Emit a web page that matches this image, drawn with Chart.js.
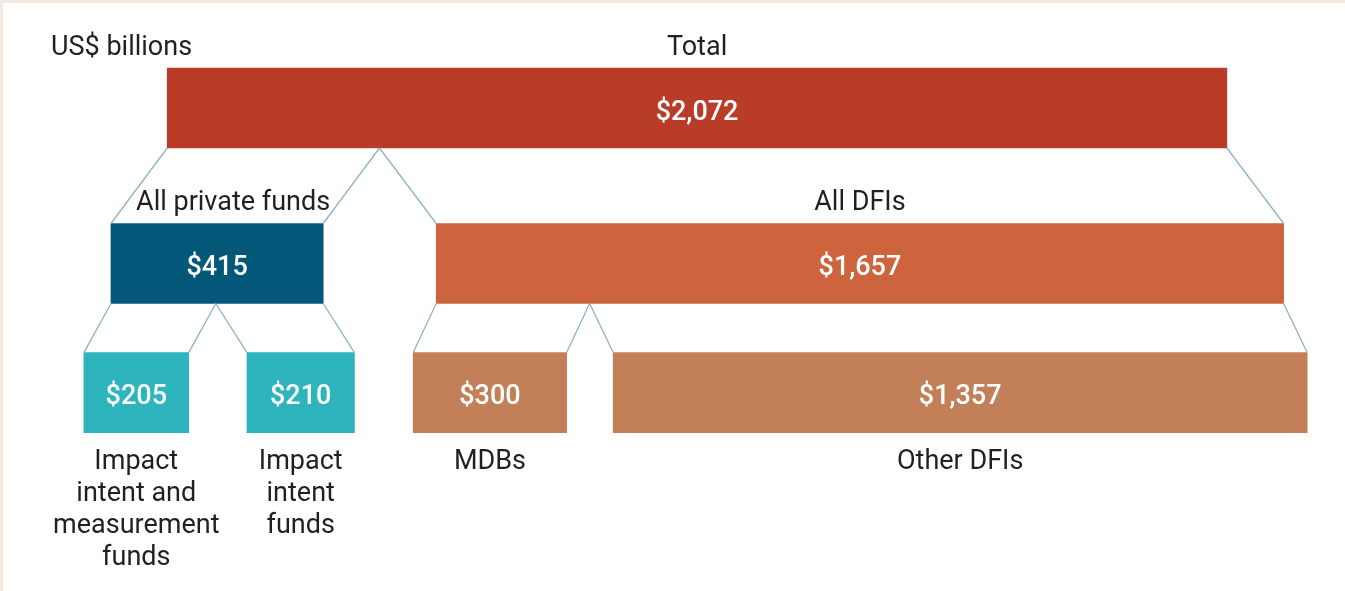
<!DOCTYPE html>
<html>
<head>
<meta charset="utf-8">
<script src="https://cdn.jsdelivr.net/npm/chart.js@4.4.1/dist/chart.umd.min.js"></script>
<style>
    html, body { margin: 0; padding: 0; background: #fff; }
    #wrap { position: relative; width: 1345px; height: 591px; }
</style>
</head>
<body>
<div id="wrap"><canvas id="fundChart" width="1345" height="591"></canvas></div>
<script>
// values in US$ billions
var totalLabels = ["Total"];
var totalValues = [2072];
var groupLabels = ["All private funds", "All DFIs"];
var groupValues = [415, 1657];
var subLabels = [["Impact", "intent and", "measurement", "funds"], ["Impact", "intent", "funds"], ["MDBs"], ["Other DFIs"]];
var subValues = [205, 210, 300, 1357];
var subParent = [0, 0, 1, 1];
var unitLabel = "US$ billions";

// layout: where each bar starts on the value axis, and row levels
var totalStarts = [327];
var groupStarts = [217, 853];
var subStarts = [164, 483, 808, 1199];
var rowLevels = [0, 1, 1.83];
var groupLabelShift = [16, 0]; // px, nudges label off the connector

var totalColors = ["#B83C27"];
var groupColors = ["#045778", "#CE643D"];
var subColors = ["#2DB4BC", "#2DB4BC", "#C38058", "#C38058"];

var BAR_H = 80;
var FONT = "Roboto, 'Noto Sans', sans-serif";
var TEXT = "#231F20";

function rowData(values, starts, level) {
    return values.map(function (v, i) {
        return { x: [starts[i], starts[i] + v], y: level };
    });
}

function fmt(v) {
    return "$" + v.toLocaleString("en-US");
}

var rows = [
    { values: totalValues, starts: totalStarts, labels: totalLabels, shift: [0], above: true },
    { values: groupValues, starts: groupStarts, labels: groupLabels, shift: groupLabelShift, above: true },
    { values: subValues, starts: subStarts, labels: subLabels, shift: [0, 0, 0, 0], above: false }
];

var decorPlugin = {
    id: "decor",
    beforeDraw: function (chart) {
        var ctx = chart.ctx;
        ctx.save();
        ctx.fillStyle = "#F3E9E1";
        ctx.fillRect(0, 0, chart.width, 3);
        ctx.fillRect(0, 0, 3, chart.height);
        ctx.restore();
    },
    afterDatasetsDraw: function (chart) {
        var ctx = chart.ctx;
        var xs = chart.scales.x, ys = chart.scales.y;
        var px = function (v) { return xs.getPixelForValue(v); };

        // connector lines between levels
        ctx.save();
        ctx.strokeStyle = "#8DB3C7";
        ctx.lineWidth = 1.3;
        function connect(parentStart, parentVal, parentLevel, kids) {
            var pBottom = ys.getPixelForValue(parentLevel) + BAR_H / 2;
            var cTop = ys.getPixelForValue(kids[0].level) - BAR_H / 2;
            var a = kids[0], b = kids[1];
            var split = parentStart + a.value;
            ctx.beginPath();
            ctx.moveTo(px(parentStart), pBottom); ctx.lineTo(px(a.start), cTop);
            ctx.moveTo(px(split), pBottom); ctx.lineTo(px(a.start + a.value), cTop);
            ctx.moveTo(px(split), pBottom); ctx.lineTo(px(b.start), cTop);
            ctx.moveTo(px(parentStart + parentVal), pBottom); ctx.lineTo(px(b.start + b.value), cTop);
            ctx.stroke();
        }
        connect(totalStarts[0], totalValues[0], rowLevels[0], [
            { start: groupStarts[0], value: groupValues[0], level: rowLevels[1] },
            { start: groupStarts[1], value: groupValues[1], level: rowLevels[1] }
        ]);
        groupValues.forEach(function (gv, g) {
            var kids = [];
            subParent.forEach(function (p, i) {
                if (p === g) kids.push({ start: subStarts[i], value: subValues[i], level: rowLevels[2] });
            });
            connect(groupStarts[g], gv, rowLevels[1], kids);
        });
        ctx.restore();

        // texts
        ctx.save();
        ctx.textAlign = "center";
        ctx.textBaseline = "middle";
        rows.forEach(function (row, r) {
            var yc = ys.getPixelForValue(rowLevels[r]);
            row.values.forEach(function (v, i) {
                var xc = px(row.starts[i] + v / 2);
                ctx.fillStyle = "#fff";
                ctx.font = "500 27px " + FONT;
                ctx.fillText(fmt(v), xc, yc + 5);
                ctx.fillStyle = TEXT;
                ctx.font = "400 27px " + FONT;
                if (row.above) {
                    ctx.fillText(row.labels[i], xc + row.shift[i], yc - BAR_H / 2 - 20);
                } else {
                    row.labels[i].forEach(function (line, k) {
                        ctx.fillText(line, xc, yc + BAR_H / 2 + 30 + k * 32);
                    });
                }
            });
        });
        ctx.textAlign = "left";
        ctx.fillText(unitLabel, 51, ys.getPixelForValue(rowLevels[0]) - BAR_H / 2 - 20);
        ctx.restore();
    }
};

var data = [].concat(
    rowData(totalValues, totalStarts, rowLevels[0]),
    rowData(groupValues, groupStarts, rowLevels[1]),
    rowData(subValues, subStarts, rowLevels[2])
);
var colors = [].concat(totalColors, groupColors, subColors);

new Chart(document.getElementById("fundChart"), {
    type: "bar",
    data: {
        datasets: [{
            data: data,
            backgroundColor: colors,
            borderWidth: 0,
            barThickness: BAR_H
        }]
    },
    options: {
        indexAxis: "y",
        responsive: false,
        animation: false,
        layout: { padding: 0 },
        plugins: { legend: { display: false }, tooltip: { enabled: false } },
        scales: {
            x: { type: "linear", min: 0, max: 2630, display: false },
            y: { type: "linear", min: -0.6945, max: 3.106, reverse: true, offset: false, display: false }
        }
    },
    plugins: [decorPlugin]
});
</script>
</body>
</html>
